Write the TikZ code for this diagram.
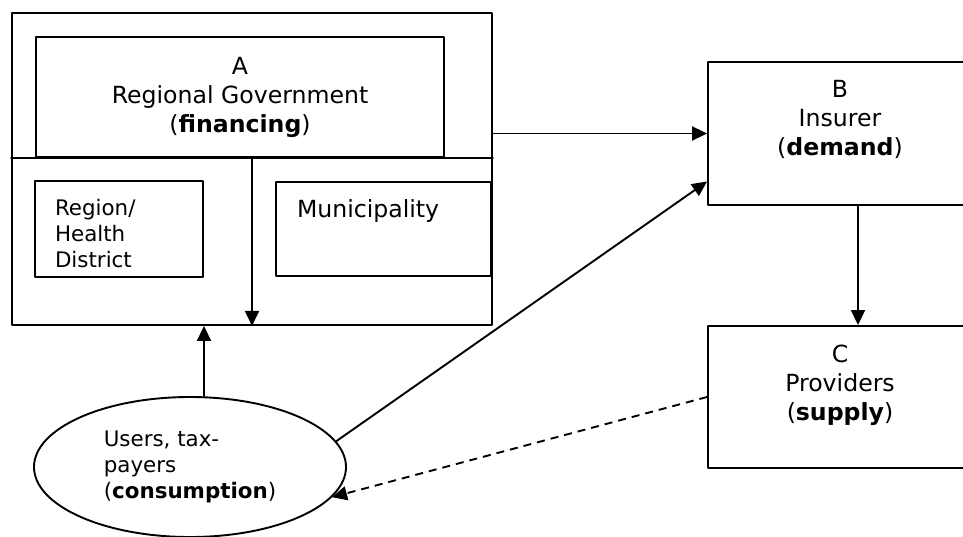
\documentclass[tikz,border=0pt]{standalone}
\usepackage{fontspec}
\setmainfont{DejaVu Sans}
\usetikzlibrary{arrows.meta,shapes.geometric}
\newcommand{\bigtxt}{\fontsize{11.8}{14.5}\selectfont}
\newcommand{\smalltxt}{\fontsize{10.7}{13}\selectfont}
\begin{document}
\begin{tikzpicture}[x=0.5pt, y=-0.5pt, line join=round, line cap=round, line width=0.95pt,
	box/.style={draw, inner sep=0pt},
	txt/.style={inner sep=0pt, align=center, font=\bigtxt},
	arr/.style={-{Triangle[length=7.5pt,width=7pt]}},
	dash line/.style={dashed, line cap=butt, dash pattern=on 4pt off 3pt}]
	\useasboundingbox (0,0) rectangle (963,536);
	\clip (0,0) rectangle (963,536);
	% A: regional government with its two parts
	\node[box, minimum width=240pt, minimum height=156pt] (govt) at (252,169) {};
	\node[box, minimum width=204pt, minimum height=60pt, txt] (A) at (240,97)
		{A\\Regional Government\\(\textbf{financing})};
	\node[box, minimum width=84pt, minimum height=48pt] (reg) at (119,229) {};
	\node[box, minimum width=107.5pt, minimum height=47pt] (mun) at (383.5,229) {};
	\node[inner sep=0pt, align=left, font=\smalltxt, anchor=north west] (regtxt)
		at ([xshift=10pt,yshift=-9pt]reg.north west) {Region/\\Health\\District};
	\node[inner sep=0pt, font=\bigtxt, anchor=north west] (muntxt)
		at ([xshift=10.5pt,yshift=-9pt]mun.north west) {Municipality};
	\draw (govt.west |- A.south) -- (govt.east |- A.south);
	% B and C
	\node[box, minimum width=132pt, minimum height=71.5pt] (B) at (840,133.5) {};
	\node[box, minimum width=132pt, minimum height=71pt] (C) at (840,397) {};
	\node[txt, anchor=north] (Btxt) at ([yshift=-9pt]B.north) {B\\Insurer\\(\textbf{demand})};
	\node[txt, anchor=north] (Ctxt) at ([yshift=-9.5pt]C.north) {C\\Providers\\(\textbf{supply})};
	% users
	\node[draw, ellipse, inner sep=0pt, minimum width=156pt, minimum height=70pt,
		align=left, font=\smalltxt] (users) at (190,467)
		{Users, tax-\\payers\\(\textbf{consumption})};
	% arrows
	\draw[arr] (govt.east |- B.west) -- (B.west);
	\draw[arr] (A.south -| govt.center) -- (govt.south);
	\draw[arr] ([xshift=7pt]users.north) -- ([xshift=7pt]users.north |- govt.south);
	\draw[arr] (users.10) -- ([yshift=-24pt]B.west);
	\draw[arr] ([xshift=9pt]B.south) -- ([xshift=9pt]C.north);
	\draw[arr, dash line] (C.west) -- (users.-12);
\end{tikzpicture}
\end{document}
